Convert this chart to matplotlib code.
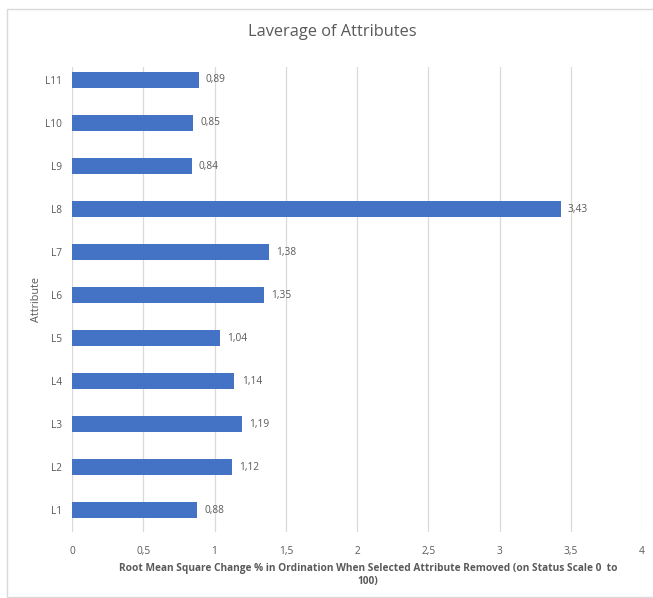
import matplotlib.pyplot as plt
from matplotlib.patches import Rectangle

# Attribute leverage values
attributes = ['L1', 'L2', 'L3', 'L4', 'L5', 'L6', 'L7', 'L8', 'L9', 'L10', 'L11']
rms_change = [0.88, 1.12, 1.19, 1.14, 1.04, 1.35, 1.38, 3.43, 0.84, 0.85, 0.89]
x_ticks = [0, 0.5, 1, 1.5, 2, 2.5, 3, 3.5, 4]

plt.rcParams['font.family'] = ['Open Sans', 'DejaVu Sans']
text_grey = '#595959'

fig = plt.figure(figsize=(6.53, 5.98), dpi=100)
ax = fig.add_axes([0.1103, 0.1104, 0.8729, 0.7776])

# outer chart border
fig.patches.append(Rectangle((7 / 653, 0.002), 1.0, 1 - 9 / 598 - 0.002,
                             transform=fig.transFigure, fill=False,
                             edgecolor='#d9d9d9', linewidth=1.0))

pos = list(range(len(attributes)))
ax.barh(pos, rms_change, height=0.37, color='#4472c4', zorder=3)

for y, v in zip(pos, rms_change):
    ax.text(v + 0.05, y, f'{v:.2f}'.replace('.', ','), va='center', ha='left',
            fontsize=7.3, color=text_grey)

ax.set_xlim(0, 4)
ax.set_ylim(-0.5, 10.3)
ax.set_xticks(x_ticks)
ax.set_xticklabels([f'{t:g}'.replace('.', ',') for t in x_ticks])
ax.set_yticks(pos)
ax.set_yticklabels(attributes)
ax.tick_params(length=0, labelsize=7.3, colors=text_grey)
ax.tick_params(axis='x', pad=10)
ax.tick_params(axis='y', pad=7)
ax.xaxis.grid(True, color='#d9d9d9', linewidth=0.9, zorder=0)
for s in ax.spines.values():
    s.set_visible(False)

ax.set_xlabel('Root Mean Square Change % in Ordination When Selected Attribute Removed (on Status Scale 0  to\n100)',
              fontsize=7.3, fontweight='bold', color=text_grey)
ax.xaxis.set_label_coords(0.519, -31 / 465, transform=ax.transAxes)
ax.xaxis.label.set_va('top')
ax.set_ylabel('Attribute', fontsize=7.8, color=text_grey)
ax.yaxis.set_label_coords(-30 / 570, 0.5)
fig.text(332 / 653, 1 - 32 / 598, 'Laverage of Attributes', ha='center', va='center',
         fontsize=11.8, color=text_grey)

fig.savefig('out.png', dpi=100)
